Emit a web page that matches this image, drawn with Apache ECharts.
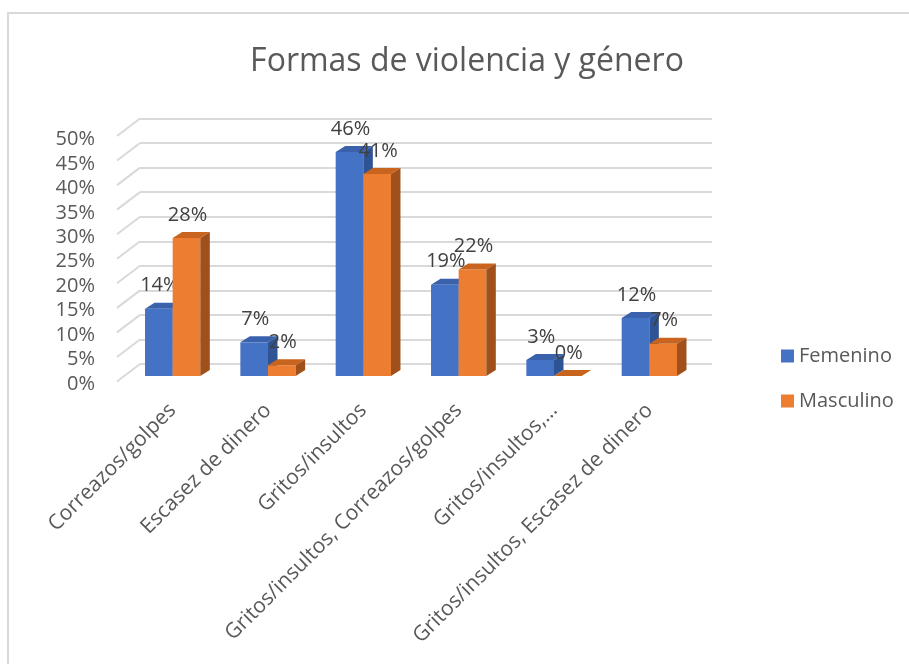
<!DOCTYPE html>
<html>
<head>
<meta charset="utf-8">
<script src="https://cdn.jsdelivr.net/npm/echarts@6/dist/echarts.min.js"></script>
<style>
  html, body { margin: 0; padding: 0; background: #fff; }
  #chart { width: 909px; height: 664px; }
</style>
</head>
<body>
<div id="chart"></div>
<script>
// datos (porcentajes)
const categorias = [
  'Correazos/golpes',
  'Escasez de dinero',
  'Gritos/insultos',
  'Gritos/insultos, Correazos/golpes',
  'Gritos/insultos,…',
  'Gritos/insultos, Escasez de dinero'
];
const femenino = [13.8, 6.9, 45.9, 18.7, 3.3, 11.9];
const masculino = [28.3, 2.2, 41.4, 21.8, 0, 6.6];
const ticksY = [0, 5, 10, 15, 20, 25, 30, 35, 40, 45, 50];

const FONT = '"Open Sans", "Noto Sans", sans-serif';
const GRIS = '#595959';
const DX = 9.5, DY = 6;           // profundidad de las barras
const PARED_DX = 23, PARED_DY = 17.5; // profundidad de la pared

const chart = echarts.init(document.getElementById('chart'));

function barra3d(lado, caras) {
  return function (params, api) {
    const cat = api.value(0);
    const v = api.value(1);
    const top = api.coord([cat, v]);
    const base = api.coord([cat, 0]);
    const w = api.size([1, 0])[0] * 0.29;
    const x0 = lado === 0 ? top[0] - w : top[0];
    const y0 = top[1], y1 = base[1];
    return {
      type: 'group',
      children: [
        { type: 'rect', shape: { x: x0, y: y0, width: w, height: y1 - y0 }, style: { fill: caras[0] } },
        { type: 'polygon', shape: { points: [[x0, y0], [x0 + DX, y0 - DY], [x0 + w + DX, y0 - DY], [x0 + w, y0]] }, style: { fill: caras[1] } },
        { type: 'polygon', shape: { points: [[x0 + w, y0], [x0 + w + DX, y0 - DY], [x0 + w + DX, y1 - DY], [x0 + w, y1]] }, style: { fill: caras[2] } },
        {
          type: 'text', x: x0 + w / 2 + 1, y: y0 - 23,
          style: {
            text: Math.round(v) + '%', align: 'center', verticalAlign: 'middle',
            font: '20px ' + FONT, fill: '#404040'
          }
        }
      ]
    };
  };
}

const option = {
  animation: false,
  color: ['#4472C4', '#ED7D31'],
  title: {
    text: 'Formas de violencia y género',
    left: 462,
    top: 41,
    textAlign: 'center',
    textStyle: { fontFamily: FONT, fontSize: 32, fontWeight: 'normal', color: GRIS }
  },
  legend: {
    orient: 'vertical',
    left: 776,
    top: 341,
    itemWidth: 13,
    itemHeight: 13,
    itemGap: 25,
    icon: 'rect',
    textStyle: { fontFamily: FONT, fontSize: 20, color: GRIS },
    data: ['Femenino', 'Masculino']
  },
  graphic: [{
    type: 'rect', z: -10,
    shape: { x: 8, y: 13, width: 1000, height: 700 },
    style: { fill: 'none', stroke: '#D9D9D9', lineWidth: 2 }
  }],
  grid: [
    // barras
    { left: 125, right: 212, top: 132, bottom: 288 },
    // pared del fondo
    { left: 140, right: 197, top: 118.5, bottom: 300 },
    // etiquetas del eje Y
    { left: 117, right: 220, top: 139.5, bottom: 280 }
  ],
  xAxis: [
    {
      gridIndex: 0, type: 'category', data: categorias,
      axisLine: { show: false }, axisTick: { show: false },
      axisLabel: { interval: 0, rotate: 45, margin: 31, fontFamily: FONT, fontSize: 21, color: GRIS }
    },
    { gridIndex: 1, type: 'value', min: 0, max: 1, show: false },
    { gridIndex: 2, type: 'value', min: 0, max: 1, show: false }
  ],
  yAxis: [
    { gridIndex: 0, type: 'value', min: 0, max: 50, interval: 5, show: false },
    {
      gridIndex: 1, type: 'value', min: 0, max: 50, interval: 5,
      axisLabel: { show: false }, axisLine: { show: false }, axisTick: { show: false },
      splitLine: { lineStyle: { color: '#D9D9D9', width: 2 } }
    },
    {
      gridIndex: 2, type: 'value', min: 0, max: 50, interval: 5,
      axisLine: { show: false }, axisTick: { show: false }, splitLine: { show: false },
      axisLabel: { margin: 22, formatter: '{value}%', fontFamily: FONT, fontSize: 20, color: GRIS }
    }
  ],
  series: [
    {
      name: 'Femenino', type: 'custom', xAxisIndex: 0, yAxisIndex: 0,
      itemStyle: { color: '#4472C4' },
      renderItem: barra3d(0, ['#4472C4', '#3A62AC', '#2F5495']),
      data: femenino.map((v, i) => [i, v])
    },
    {
      name: 'Masculino', type: 'custom', xAxisIndex: 0, yAxisIndex: 0,
      itemStyle: { color: '#ED7D31' },
      renderItem: barra3d(1, ['#ED7D31', '#C9641F', '#A0501A']),
      data: masculino.map((v, i) => [i, v])
    },
    {
      // lineas inclinadas de la pared lateral
      type: 'custom', xAxisIndex: 1, yAxisIndex: 1, silent: true, z: 1,
      renderItem: function (params, api) {
        const p = api.coord([0, api.value(0)]);
        return {
          type: 'line',
          shape: { x1: p[0], y1: p[1], x2: p[0] - PARED_DX, y2: p[1] + PARED_DY },
          style: { stroke: '#D9D9D9', lineWidth: 2 }
        };
      },
      data: ticksY.map(v => [v])
    }
  ]
};

chart.setOption(option);
</script>
</body>
</html>
